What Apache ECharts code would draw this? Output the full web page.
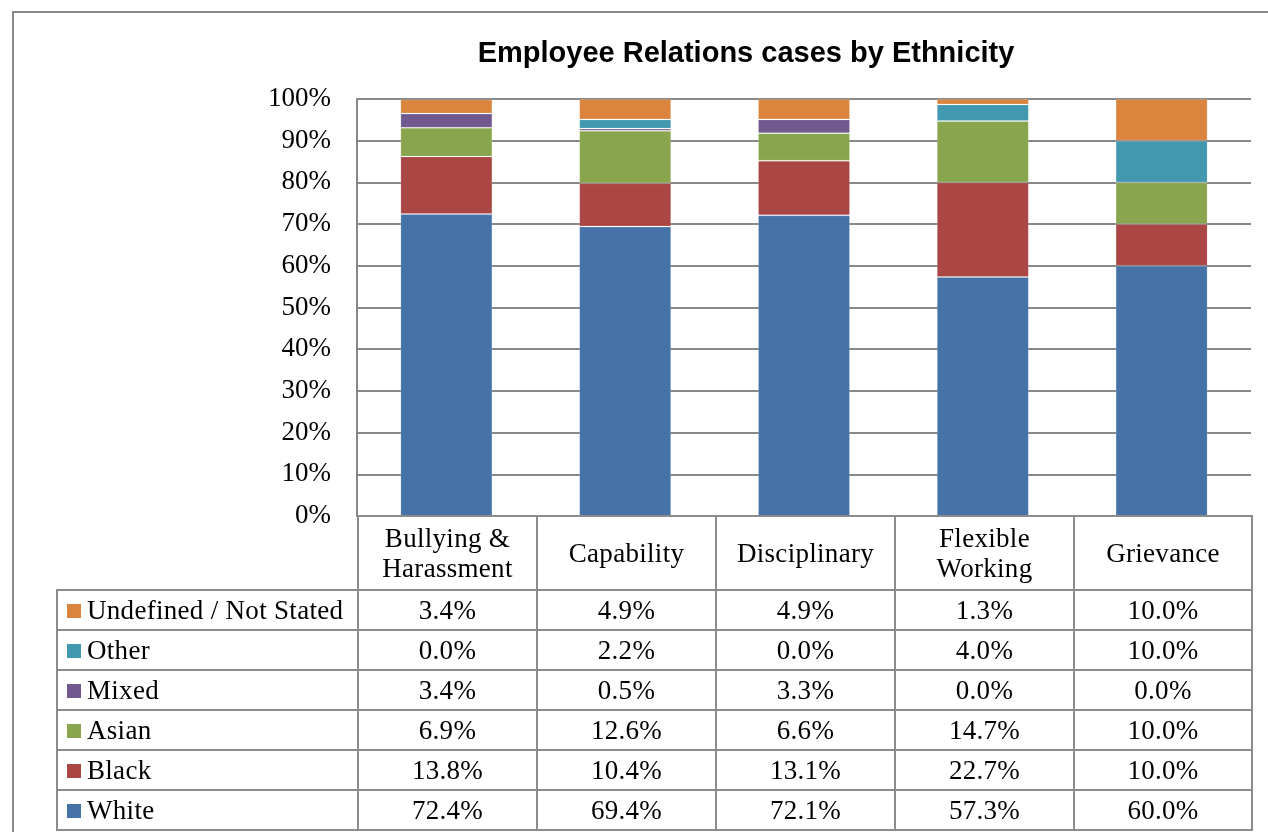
<!DOCTYPE html>
<html>
<head>
<meta charset="utf-8">
<title>Employee Relations cases by Ethnicity</title>
<script src="https://cdn.jsdelivr.net/npm/echarts@6/dist/echarts.min.js"></script>
<style>
  body {
    margin: 0;
    background: #fff;
  }
  .wrap {
    position: relative;
    width: 1268px;
    height: 832px;
    overflow: hidden;
  }
  .frame {
    position: absolute;
    left: 12px;
    top: 11px;
    width: 1400px;
    height: 1000px;
    border-left: 2px solid #8a8a8a;
    border-top: 2px solid #8a8a8a;
  }
  .chart {
    position: absolute;
    left: 0;
    top: 0;
    width: 1268px;
    height: 832px;
  }
  .dataTable {
    position: absolute;
    left: 56px;
    top: 515px;
    border-collapse: collapse;
    font-family: 'Liberation Serif', serif;
    font-size: 27px;
    letter-spacing: 0.3px;
    color: #000;
    table-layout: fixed;
  }
  .dataTable td {
    border: 2px solid #8c8c8c;
    padding: 0;
    text-align: center;
    white-space: nowrap;
  }
  .dataTable tr.head td {
    height: 72px;
    line-height: 30px;
  }
  .dataTable tr.head td.blank {
    border: none;
  }
  .dataTable tr.row td {
    height: 38px;
    line-height: 38px;
  }
  .dataTable td.name {
    text-align: left;
    padding-left: 9px;
  }
  .dataTable .mark {
    display: inline-block;
    width: 14px;
    height: 14px;
    margin-right: 6px;
    vertical-align: 1px;
  }
</style>
</head>
<body>
<div class="wrap">
  <div class="frame"></div>
  <div id="chart" class="chart"></div>
  <table id="dataTable" class="dataTable"></table>
</div>
<script>
// categories along the x axis
const categories = ['Bullying &\nHarassment', 'Capability', 'Disciplinary', 'Flexible\nWorking', 'Grievance']

// percent of cases per ethnicity, one value per category
const white = [72.4, 69.4, 72.1, 57.3, 60.0]
const black = [13.8, 10.4, 13.1, 22.7, 10.0]
const asian = [6.9, 12.6, 6.6, 14.7, 10.0]
const mixed = [3.4, 0.5, 3.3, 0.0, 0.0]
const other = [0.0, 2.2, 0.0, 4.0, 10.0]
const undefinedNotStated = [3.4, 4.9, 4.9, 1.3, 10.0]

const yTicks = [0, 10, 20, 30, 40, 50, 60, 70, 80, 90, 100]

// stack order, bottom to top
const seriesList = [
  { name: 'White', color: '#4572a7', data: white },
  { name: 'Black', color: '#aa4643', data: black },
  { name: 'Asian', color: '#89a54e', data: asian },
  { name: 'Mixed', color: '#71588f', data: mixed },
  { name: 'Other', color: '#4198af', data: other },
  { name: 'Undefined / Not Stated', color: '#db843d', data: undefinedNotStated }
]

const gridColor = '#888888'
const serif = 'Liberation Serif'

const chartInstance = echarts.init(document.getElementById('chart'))

const option = {
  animation: false,
  title: {
    text: 'Employee Relations cases by Ethnicity',
    left: 741,
    textAlign: 'center',
    top: 34,
    textStyle: {
      fontFamily: 'Liberation Sans',
      fontWeight: 'bold',
      fontSize: 29,
      color: '#000'
    }
  },
  grid: {
    left: 357,
    right: 17,
    top: 99,
    bottom: 316,
    containLabel: false
  },
  xAxis: {
    type: 'category',
    data: categories,
    axisTick: { show: false },
    axisLabel: { show: false },
    axisLine: { lineStyle: { color: gridColor, width: 2 } }
  },
  yAxis: {
    type: 'value',
    min: yTicks[0],
    max: yTicks[yTicks.length - 1],
    interval: yTicks[1] - yTicks[0],
    axisLine: { show: true, lineStyle: { color: gridColor, width: 2 } },
    axisTick: { show: false },
    splitLine: { lineStyle: { color: gridColor, width: 2 } },
    axisLabel: {
      formatter: '{value}%',
      margin: 26,
      fontFamily: serif,
      fontSize: 27,
      color: '#000'
    }
  },
  series: seriesList.map(function (s) {
    return {
      name: s.name,
      type: 'bar',
      stack: 'total',
      barWidth: 92,
      data: s.data,
      itemStyle: {
        color: s.color,
        borderColor: 'rgba(255,255,255,0.15)',
        borderWidth: 1
      }
    }
  })
}

chartInstance.setOption(option)

// data table under the plot (rows listed top to bottom like the legend)
const table = document.getElementById('dataTable')
let html = '<colgroup><col style="width:301px">'
categories.forEach(function (c, i) {
  html += '<col style="width:' + (i === categories.length - 1 ? 178 : 179) + 'px">'
})
html += '</colgroup><tr class="head"><td class="blank"></td>'
categories.forEach(function (c) {
  html += '<td>' + c.replace('&', '&amp;').replace('\n', '<br>') + '</td>'
})
html += '</tr>'
seriesList.slice().reverse().forEach(function (s) {
  html += '<tr class="row"><td class="name"><span class="mark" style="background:' + s.color + '"></span>' + s.name + '</td>'
  s.data.forEach(function (v) {
    html += '<td>' + v.toFixed(1) + '%</td>'
  })
  html += '</tr>'
})
table.innerHTML = html
</script>
</body>
</html>
